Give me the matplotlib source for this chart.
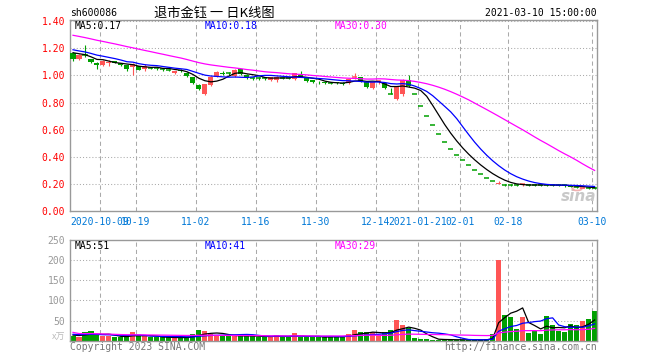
import numpy as np
import matplotlib.pyplot as plt
from matplotlib.patches import Circle

plt.rcParams['font.family'] = ['DejaVu Sans Mono']

# K线数据 (从图上读取, 每个槽位一个交易日)
opens = [1.165, 1.123, 1.150, 1.124, 1.094, 1.075, 1.090, 1.105, 1.090, 1.075,
         1.062, 1.067, 1.045, 1.058, 1.055, 1.050, 1.045, 1.020, 1.040, 1.018,
         0.988, 0.931, 0.864, 0.931, 0.988, 1.020, 1.018, 0.993, 1.047, 1.005,
         0.985, 0.980, 0.980, 0.963, 0.970, 0.985, 0.985, 0.973, 1.005, 0.980,
         0.968, 0.955, 0.952, 0.950, 0.948, 0.945, 0.944, 0.990, 0.985, 0.953,
         0.906, 0.955, 0.943, 0.865, 0.825, 0.864, 0.963, 0.864, 0.777, 0.700,
         0.630, 0.567, 0.510, 0.459, 0.413, 0.372, 0.335, 0.301, 0.271, 0.244,
         0.220, 0.198, 0.192, 0.190, 0.190, 0.194, 0.195, 0.192, 0.192, 0.192,
         0.190, 0.190, 0.188, 0.185, 0.178, 0.168, 0.172, 0.168]
highs = [1.170, 1.160, 1.222, 1.125, 1.100, 1.115, 1.112, 1.110, 1.095, 1.080,
         1.090, 1.070, 1.085, 1.065, 1.060, 1.058, 1.050, 1.035, 1.045, 1.025,
         0.990, 0.935, 0.940, 0.995, 1.030, 1.030, 1.025, 1.045, 1.050, 1.010,
         0.990, 0.985, 0.990, 0.990, 0.995, 0.990, 0.990, 1.020, 1.030, 0.985,
         0.970, 0.960, 0.958, 0.955, 0.955, 0.950, 0.975, 1.020, 0.990, 0.958,
         0.952, 0.970, 0.948, 0.906, 0.920, 0.975, 1.005, 0.864, 0.777, 0.700,
         0.630, 0.567, 0.510, 0.459, 0.413, 0.372, 0.335, 0.301, 0.271, 0.244,
         0.220, 0.218, 0.198, 0.196, 0.195, 0.195, 0.197, 0.195, 0.196, 0.196,
         0.195, 0.193, 0.190, 0.188, 0.180, 0.176, 0.175, 0.172]
lows = [1.110, 1.115, 1.140, 1.092, 1.047, 1.070, 1.067, 1.090, 1.070, 1.030,
        1.007, 1.040, 1.030, 1.045, 1.040, 1.035, 1.030, 1.010, 1.025, 0.990,
        0.940, 0.895, 0.852, 0.920, 0.985, 1.005, 1.005, 0.990, 1.005, 0.975,
        0.970, 0.970, 0.965, 0.960, 0.955, 0.975, 0.975, 0.970, 0.985, 0.955,
        0.945, 0.940, 0.940, 0.940, 0.935, 0.932, 0.940, 0.975, 0.955, 0.910,
        0.900, 0.940, 0.900, 0.864, 0.820, 0.850, 0.915, 0.864, 0.777, 0.700,
        0.630, 0.567, 0.510, 0.459, 0.413, 0.372, 0.335, 0.301, 0.271, 0.244,
        0.220, 0.195, 0.183, 0.184, 0.183, 0.180, 0.185, 0.183, 0.184, 0.182,
        0.182, 0.180, 0.178, 0.172, 0.168, 0.165, 0.163, 0.160]
closes = [1.120, 1.153, 1.146, 1.100, 1.074, 1.110, 1.100, 1.092, 1.075, 1.045,
          1.087, 1.042, 1.070, 1.055, 1.050, 1.045, 1.040, 1.030, 1.030, 0.993,
          0.944, 0.899, 0.939, 0.988, 1.022, 1.012, 1.015, 1.042, 1.012, 0.980,
          0.980, 0.978, 0.975, 0.988, 0.985, 0.982, 0.980, 1.018, 0.990, 0.960,
          0.948, 0.948, 0.946, 0.945, 0.942, 0.939, 0.973, 0.993, 0.960, 0.914,
          0.948, 0.958, 0.906, 0.864, 0.914, 0.968, 0.920, 0.864, 0.777, 0.700,
          0.630, 0.567, 0.510, 0.459, 0.413, 0.372, 0.335, 0.301, 0.271, 0.244,
          0.220, 0.205, 0.190, 0.188, 0.188, 0.195, 0.190, 0.190, 0.190, 0.189,
          0.188, 0.187, 0.185, 0.175, 0.174, 0.173, 0.166, 0.163]
# 成交量 (万)
volumes = [12.5, 9, 21, 24, 14, 11, 11, 9, 9, 11,
           21, 11, 11, 8, 8, 8, 8, 7.5, 7.5, 8,
           17.5, 26, 23, 17, 12, 12, 12, 12, 12, 12,
           11, 9, 9, 11, 15, 9, 9, 18, 9, 9,
           9, 9, 9, 11, 11, 9, 17.5, 26, 21, 21,
           21, 12.5, 21, 26, 51, 38, 32.5, 6, 4, 3.5,
           2.5, 2.5, 2.5, 2.5, 2, 2, 2, 2, 2, 3,
           17.5, 200, 63, 58, 28, 58, 19, 25, 16, 62,
           38, 23, 21, 41, 38, 50, 54, 74]

# 图左侧之前的29天 (按均线起点估计)
prev_close = [1.40, 1.41, 1.39, 1.38, 1.37, 1.38, 1.36, 1.37, 1.35, 1.36, 1.34,
              1.35, 1.33, 1.34, 1.32, 1.33, 1.31, 1.30, 1.32, 1.30,
              1.24, 1.22, 1.21, 1.20, 1.19,
              1.19, 1.18, 1.18, 1.17]
prev_vol = [95, 25, 25, 25, 25, 25, 25, 25, 25, 25,
            14, 14, 14, 14, 14, 14, 14, 14, 14, 14,
            18, 18, 18, 18, 18,
            14, 14, 15, 14]

tick_slots = [5, 11, 21, 31, 41, 51, 58, 65, 73, 87]
tick_labels = ['2020-10-09', '10-19', '11-02', '11-16', '11-30', '12-14',
               '2021-01-21', '02-01', '02-18', '03-10']

price_ticks = [0.0, 0.2, 0.4, 0.6, 0.8, 1.0, 1.2, 1.4]
vol_ticks = [50, 100, 150, 200, 250]

RED = '#FF5555'
GREEN = '#00A000'
GRID = '#AAAAAA'
FRAME = '#999999'


def ma(prev, vals, k):
    s = np.concatenate([prev, vals])
    return np.convolve(s, np.ones(k) / k, mode='valid')[-len(vals):]


o = np.array(opens)
h = np.array(highs)
l = np.array(lows)
c = np.array(closes)
v = np.array(volumes)
n = len(c)
x = np.arange(n)
prevc = np.concatenate([[prev_close[-1]], c[:-1]])
up = (c > o) | ((c == o) & (c > prevc))
cols = np.where(up, RED, GREEN)

W, H = 660, 360
fig = plt.figure(figsize=(6.6, 3.6), dpi=100)
ax = fig.add_axes([70 / W, 1 - 210.7 / H, 527 / W, 190.7 / H])
axv = fig.add_axes([70 / W, 1 - 340.7 / H, 527 / W, 100.7 / H])

grid_x = [s - 0.5 for s in tick_slots]
for a in (ax, axv):
    for sp in a.spines.values():
        sp.set_color(FRAME)
        sp.set_linewidth(1)
    a.set_xlim(-0.5, 87.4)
    for gx in grid_x:
        a.axvline(gx, color=GRID, lw=0.75, ls=(0, (4, 3)), zorder=0)

# 主图
ax.set_ylim(0, 1.41)
for py in price_ticks[1:]:
    ax.axhline(py, color=GRID, lw=0.75, ls=(0, (1, 2)), zorder=0)
for i in range(n):
    ax.vlines(x[i], l[i], h[i], color=cols[i], lw=0.8, zorder=2)
    if abs(c[i] - o[i]) < 0.006:
        ax.hlines((o[i] + c[i]) / 2, x[i] - 0.42, x[i] + 0.42, color=cols[i], lw=1.1, zorder=3)
    else:
        ax.bar(x[i], abs(c[i] - o[i]), bottom=min(o[i], c[i]), width=0.84,
               color=cols[i], lw=0, zorder=3)
ax.plot(x, ma(prev_close, c, 5), color='black', lw=0.9, zorder=4)
ax.plot(x, ma(prev_close, c, 10), color='#0000FF', lw=0.9, zorder=4)
ax.plot(x, ma(prev_close, c, 30), color='#FF00FF', lw=0.9, zorder=4)

ax.set_yticks(price_ticks)
ax.set_yticklabels(['%.2f' % t for t in price_ticks])
ax.set_xticks(grid_x)
ax.set_xticklabels(tick_labels)
ax.tick_params(axis='y', length=0, pad=3.5, labelcolor='#FF0000', labelsize=7)
ax.tick_params(axis='x', length=0, pad=4.5, labelcolor='#0078D7', labelsize=7)

# sina 水印
ax.text(0.965, 0.075, 'sina', transform=ax.transAxes, ha='center', va='center',
        fontsize=11, fontweight='bold', style='italic', color='#C8C8C8',
        family='DejaVu Sans', zorder=1)
ax.add_patch(Circle((0.962, 0.115), 0.009, transform=ax.transAxes, fill=False,
                    ec='#F0B0B0', lw=1.2, zorder=1))

# 成交量
axv.set_ylim(0, 250)
for vy in vol_ticks[:-1]:
    axv.axhline(vy, color=GRID, lw=0.75, ls=(0, (1, 2)), zorder=0)
axv.bar(x, v, width=0.84, color=cols, lw=0, zorder=2)
axv.plot(x, ma(prev_vol, v, 5), color='black', lw=0.9, zorder=4)
axv.plot(x, ma(prev_vol, v, 10), color='#0000FF', lw=0.9, zorder=4)
axv.plot(x, ma(prev_vol, v, 30), color='#FF00FF', lw=0.9, zorder=4)
axv.set_yticks(vol_ticks)
axv.set_yticklabels([str(t) for t in vol_ticks])
axv.set_xticks([])
axv.tick_params(axis='y', length=0, pad=3.5, labelcolor='#999999', labelsize=7)


def ftext(px, py, s, **kw):
    kw.setdefault('fontsize', 7)
    fig.text(px / W, 1 - py / H, s, va='center', **kw)


ftext(70, 13, 'sh600086')
ftext(214, 13, '退市金钰 一 日K线图', ha='center', fontsize=9.5,
      family=['Noto Sans CJK SC', 'DejaVu Sans'])
ftext(597, 13, '2021-03-10 15:00:00', ha='right')

ftext(75, 26, 'MA5:0.17', color='black')
ftext(205, 26, 'MA10:0.18', color='#0000FF')
ftext(335, 26, 'MA30:0.30', color='#FF00FF')
ftext(75, 246, 'MA5:51', color='black')
ftext(205, 246, 'MA10:41', color='#0000FF')
ftext(335, 246, 'MA30:29', color='#FF00FF')

ftext(65, 337, 'x万', ha='right', color='#BBBBBB', fontsize=6.5,
      family=['Noto Sans CJK SC', 'DejaVu Sans'])
ftext(70, 347, 'Copyright 2023 SINA.COM', color='#777777')
ftext(597, 347, 'http://finance.sina.com.cn', ha='right', color='#777777')

fig.savefig('out.png', dpi=100)
